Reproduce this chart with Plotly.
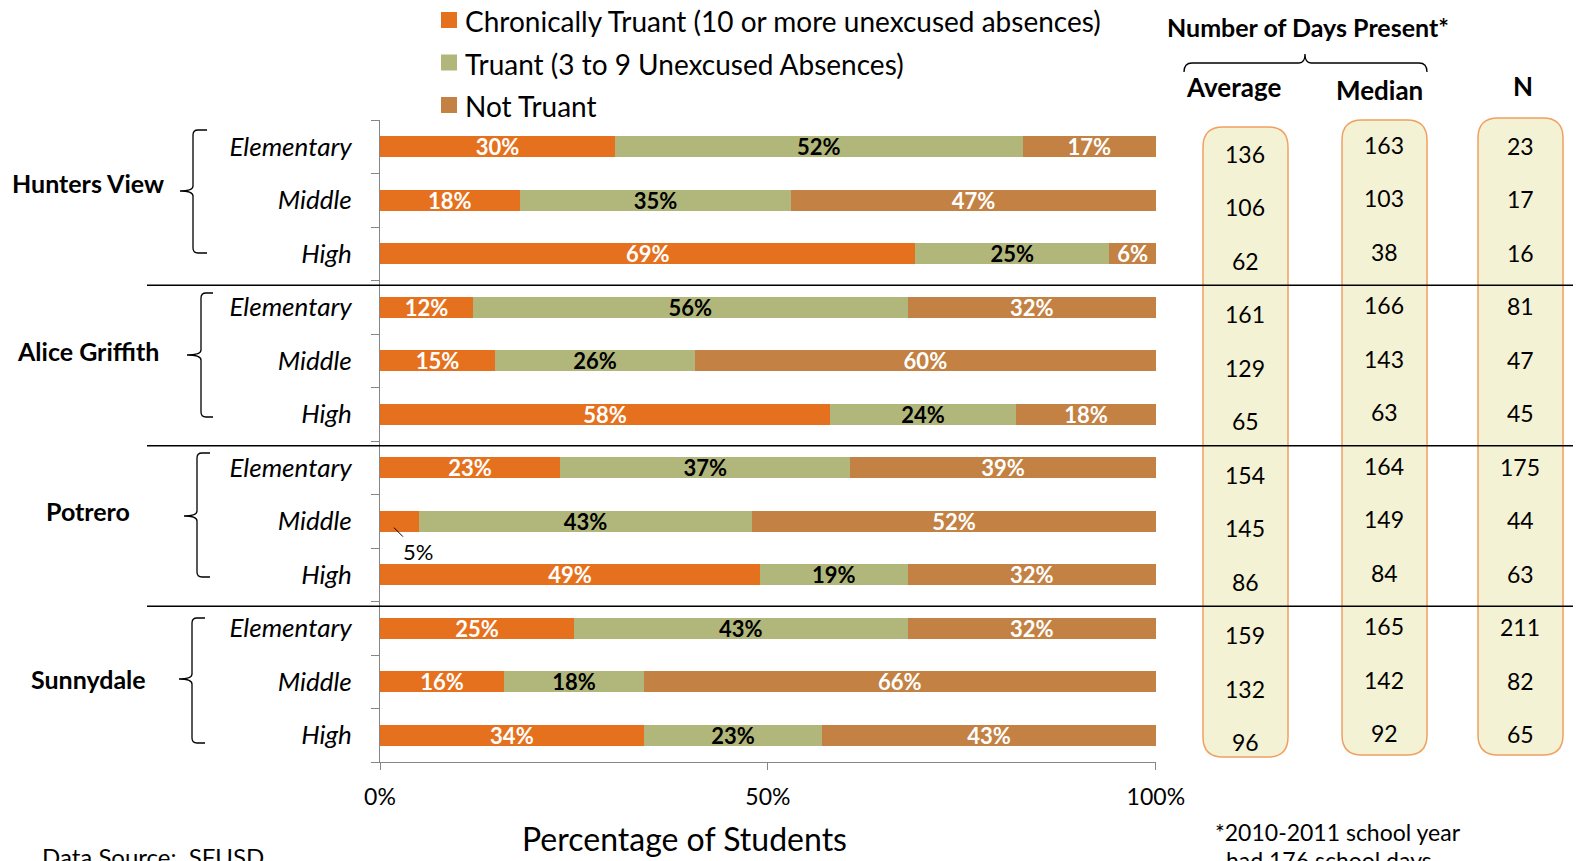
import plotly.graph_objects as go

# ---------------- data ----------------
sites = ["Hunters View", "Alice Griffith", "Potrero", "Sunnydale"]
levels = ["Elementary", "Middle", "High"]
series_names = ["Chronically Truant (10 or more unexcused absences)",
                "Truant (3 to 9 Unexcused Absences)",
                "Not Truant"]
chronic = [30, 18, 69, 12, 15, 58, 23, 5, 49, 25, 16, 34]
truant = [52, 35, 25, 56, 26, 24, 37, 43, 19, 43, 18, 23]
not_truant = [17, 47, 6, 32, 60, 18, 39, 52, 32, 32, 66, 43]
avg_days = [136, 106, 62, 161, 129, 65, 154, 145, 86, 159, 132, 96]
median_days = [163, 103, 38, 166, 143, 63, 164, 149, 84, 165, 142, 92]
n_students = [23, 17, 16, 81, 47, 45, 175, 44, 63, 211, 82, 65]
x_tick_vals = [0, 50, 100]
x_tick_labels = ["0%", "50%", "100%"]

# ---------------- styling ----------------
SCREEN_W, SCREEN_H = 1581, 861
OFF = 8  # default page body margin
W, H = SCREEN_W - OFF, SCREEN_H - OFF
FONT = "Lato"
C_ORANGE = "#E5711E"
C_GREEN = "#B1B77B"
C_BROWN = "#C38244"
GRAY = "#868686"


def px(x):
    return (x - OFF) / W


def py(y):
    return 1 - (y - OFF) / H


def note(x, y, text, size, xanchor="center", **kw):
    d = dict(x=px(x), y=py(y), xref="paper", yref="paper", text=text, showarrow=False,
             xanchor=xanchor, yanchor="middle",
             font=dict(family=FONT, size=size, color="black"))
    d.update(kw)
    return d


rows = list(range(len(chronic)))
row_labels = levels * len(sites)
inside_min = 6  # chronic segments smaller than this get an outside label

fig = go.Figure()
for k, (vals, col, txtcol, name) in enumerate(
        [(chronic, C_ORANGE, "white", series_names[0]),
         (truant, C_GREEN, "black", series_names[1]),
         (not_truant, C_BROWN, "white", series_names[2])]):
    texts = [f"<b>{v}%</b>" if (k > 0 or v >= inside_min) else "" for v in vals]
    fig.add_trace(go.Bar(
        x=vals, y=rows, orientation="h", name=name,
        marker=dict(color=col, line=dict(width=0)),
        text=texts, textposition="inside", insidetextanchor="middle",
        textfont=dict(family=FONT, size=22, color=txtcol),
        constraintext="none", showlegend=False, hoverinfo="skip",
        cliponaxis=False,
    ))

annotations = []
shapes = []

# outside labels for thin segments
for i, v in enumerate(chronic):
    if v < inside_min:
        annotations.append(dict(
            x=v * 0.36, y=i + 0.12, xref="x", yref="y", text=f"{v}%",
            showarrow=True, arrowhead=0, arrowwidth=1, arrowcolor="black",
            ax=24, ay=24, xanchor="center", yanchor="middle",
            font=dict(family=FONT, size=22, color="black")))

# legend (manual)
for k, (name, col) in enumerate(zip(series_names, [C_ORANGE, C_GREEN, C_BROWN])):
    yc = 20 + k * 42.5
    shapes.append(dict(type="rect", xref="paper", yref="paper",
                       x0=px(441), x1=px(457), y0=py(yc + 8), y1=py(yc - 8),
                       fillcolor=col, line=dict(width=0)))
    annotations.append(note(463, yc + 1, name, 28, xanchor="left"))

# group labels and braces
brace_geom = [  # (vertical x, top y, bottom y, notch y, notch x, hook x)
    (193, 130, 253, 191, 180, 207),
    (201, 293, 417, 355, 187, 213),
    (197, 453, 577, 516, 184, 210),
    (192, 618, 743, 679, 179, 205),
]
label_y = [183, 351, 511, 679]
for g, site in enumerate(sites):
    annotations.append(note(88, label_y[g], f"<b>{site}</b>", 25))
    vx, t, b, ny, nx, hx = brace_geom[g]
    r = 5
    path = (f"M {px(hx)},{py(t)} L {px(vx + r)},{py(t)} "
            f"Q {px(vx)},{py(t)} {px(vx)},{py(t + r)} "
            f"L {px(vx)},{py(ny - r)} Q {px(vx)},{py(ny)} {px(nx)},{py(ny)} "
            f"Q {px(vx)},{py(ny)} {px(vx)},{py(ny + r)} "
            f"L {px(vx)},{py(b - r)} Q {px(vx)},{py(b)} {px(vx + r)},{py(b)} "
            f"L {px(hx)},{py(b)}")
    shapes.append(dict(type="path", xref="paper", yref="paper", path=path,
                       line=dict(color="black", width=1.3)))

# table boxes (rounded)
boxes = [(1203, 1288, 127, 757), (1342, 1427, 120, 755), (1478, 1563, 118, 755)]
for (x0, x1, y0, y1) in boxes:
    r = 20
    path = (f"M {px(x0 + r)},{py(y0)} L {px(x1 - r)},{py(y0)} "
            f"Q {px(x1)},{py(y0)} {px(x1)},{py(y0 + r)} "
            f"L {px(x1)},{py(y1 - r)} Q {px(x1)},{py(y1)} {px(x1 - r)},{py(y1)} "
            f"L {px(x0 + r)},{py(y1)} Q {px(x0)},{py(y1)} {px(x0)},{py(y1 - r)} "
            f"L {px(x0)},{py(y0 + r)} Q {px(x0)},{py(y0)} {px(x0 + r)},{py(y0)} Z")
    shapes.append(dict(type="path", xref="paper", yref="paper", path=path,
                       fillcolor="#F4F2D4", line=dict(color="#F0A060", width=1.5),
                       layer="below"))

# table values
for col_vals, cx, yshift in [(avg_days, 1245, -7), (median_days, 1384, 2), (n_students, 1520, 1)]:
    for i, v in enumerate(col_vals):
        annotations.append(dict(x=px(cx), y=i, xref="paper", yref="y", text=str(v),
                                showarrow=False, yshift=yshift,
                                xanchor="center", yanchor="middle",
                                font=dict(family=FONT, size=23, color="black")))

# table headers
annotations += [
    note(1308, 27, "<b>Number of Days Present*</b>", 25),
    note(1233, 87, "<b>Average</b>", 26),
    note(1379, 90, "<b>Median</b>", 26),
    note(1523, 86, "<b>N</b>", 26),
]
# header bracket
bl, br, bm, by, btop, bend = 1184, 1427, 1305, 63, 54, 72
path = (f"M {px(bl)},{py(bend)} Q {px(bl)},{py(by)} {px(bl + 8)},{py(by)} "
        f"L {px(bm - 6)},{py(by)} Q {px(bm)},{py(by)} {px(bm)},{py(btop)} "
        f"Q {px(bm)},{py(by)} {px(bm + 6)},{py(by)} "
        f"L {px(br - 8)},{py(by)} Q {px(br)},{py(by)} {px(br)},{py(bend)}")
shapes.append(dict(type="path", xref="paper", yref="paper", path=path,
                   line=dict(color="black", width=1.3)))

# separators between sites
for g in range(1, len(sites)):
    yb = g * len(levels) - 0.5 + 0.09
    shapes.append(dict(type="line", xref="paper", yref="y", x0=px(147), x1=1,
                       y0=yb, y1=yb, line=dict(color="black", width=1.5), layer="above"))

# axis title & notes
annotations += [
    note(684, 838, "Percentage of Students", 32),
    note(40, 856, "Data Source:  SFUSD", 24, xanchor="left"),
    note(1213, 832, "*2010-2011 school year", 23, xanchor="left"),
    note(1224, 860, "had 176 school days", 23, xanchor="left"),
]

fig.update_layout(
    width=W, height=H, margin=dict(l=0, r=0, t=0, b=0),
    paper_bgcolor="white", plot_bgcolor="white",
    barmode="stack", barnorm="percent", bargap=0.61,
    font=dict(family=FONT, color="black"),
    annotations=annotations, shapes=shapes,
    xaxis=dict(domain=[px(380), px(1156)], range=[0, 100.02], tickvals=x_tick_vals,
               ticktext=x_tick_labels, ticks="outside", ticklen=7, tickcolor=GRAY,
               showline=True, linecolor=GRAY, linewidth=1, showgrid=False, zeroline=False,
               tickfont=dict(family=FONT, size=23, color="black"), automargin=False,
               ticklabelstandoff=7, fixedrange=True),
    yaxis=dict(domain=[py(762), py(120)], range=[len(rows) - 0.5, -0.5],
               tickvals=rows, ticktext=row_labels, ticks="",
               tickfont=dict(family=FONT, size=26, color="black", style="italic"),
               showline=True, linecolor=GRAY, linewidth=1, showgrid=False, zeroline=False,
               minor=dict(tickvals=[i - 0.5 for i in range(len(rows) + 1)], ticks="outside",
                          ticklen=8, tickcolor=GRAY, showgrid=False),
               ticklabelstandoff=22, automargin=False, fixedrange=True),
)

fig.write_html("out.html")
